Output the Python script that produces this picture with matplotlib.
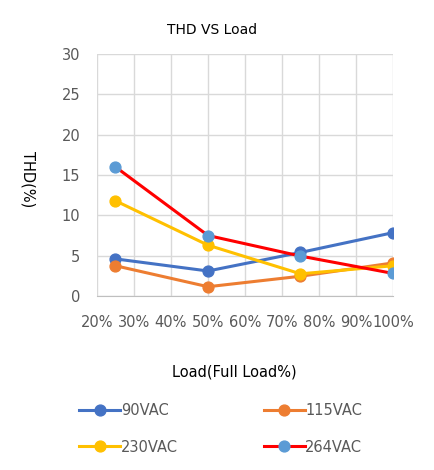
import matplotlib
matplotlib.use('Agg')
from matplotlib import pyplot as plt
from matplotlib.lines import Line2D
from matplotlib.ticker import FuncFormatter

# data
load = [25, 50, 75, 100]
thd_90 = [4.6, 3.1, 5.4, 7.85]
thd_115 = [3.75, 1.15, 2.45, 4.1]
thd_230 = [11.8, 6.3, 2.75, 3.75]
thd_264 = [16.0, 7.5, 4.95, 2.8]

series = [
    ('90VAC', thd_90, '#4472C4', '#4472C4'),
    ('115VAC', thd_115, '#ED7D31', '#ED7D31'),
    ('230VAC', thd_230, '#FFC000', '#FFC000'),
    ('264VAC', thd_264, '#FF0000', '#5B9BD5'),
]
x_ticks = [20, 30, 40, 50, 60, 70, 80, 90, 100]
y_ticks = [0, 5, 10, 15, 20, 25, 30]

plt.rcParams['font.family'] = ['DejaVu Sans']
fig = plt.figure(figsize=(4.35, 4.7), dpi=100)
W, H = 435, 470
ax = fig.add_axes([97 / W, 1 - 296 / H, (393 - 97) / W, (296 - 54) / H])

for name, vals, lc, mc in series:
    ax.plot(load, vals, color=lc, lw=2.2, marker='o', markersize=7.8,
            markerfacecolor=mc, markeredgecolor=mc, zorder=3)

ax.set_xlim(20, 100)
ax.set_ylim(0, 30)
ax.set_xticks(x_ticks)
ax.set_yticks(y_ticks)
ax.xaxis.set_major_formatter(FuncFormatter(lambda v, p: '%d%%' % v))
ax.grid(True, color='#D9D9D9', lw=1.0)
ax.set_axisbelow(True)
for s in ['top', 'right', 'left']:
    ax.spines[s].set_visible(False)
ax.spines['bottom'].set_color('#BFBFBF')
ax.tick_params(length=0, labelsize=10.5, labelcolor='#595959')
ax.tick_params(axis='x', pad=14)
ax.tick_params(axis='y', pad=12)

fig.text(212 / W, 1 - 30 / H, 'THD VS Load', ha='center', va='center', fontsize=10)
fig.text(28 / W, 1 - 179 / H, 'THD(%)', ha='center', va='center', rotation=-90, fontsize=10.5)
fig.text(234 / W, 1 - 372 / H, 'Load(Full Load%)', ha='center', va='center', fontsize=10.5)

# legend, two columns filled row by row
handles = [Line2D([], [], color=lc, lw=2.2, marker='o', markersize=7.8,
                  markerfacecolor=mc, markeredgecolor=mc) for _, _, lc, mc in series]
labels = [s[0] for s in series]
order = [0, 2, 1, 3]
leg = fig.legend([handles[i] for i in order], [labels[i] for i in order], ncol=2,
                 loc='center left', bbox_to_anchor=(66 / W, 1 - 429 / H),
                 frameon=False, fontsize=10.5, handlelength=2.8, columnspacing=5.9,
                 labelspacing=1.45, handletextpad=0.05)
for t in leg.get_texts():
    t.set_color('#595959')

fig.savefig('out.png', dpi=100)
